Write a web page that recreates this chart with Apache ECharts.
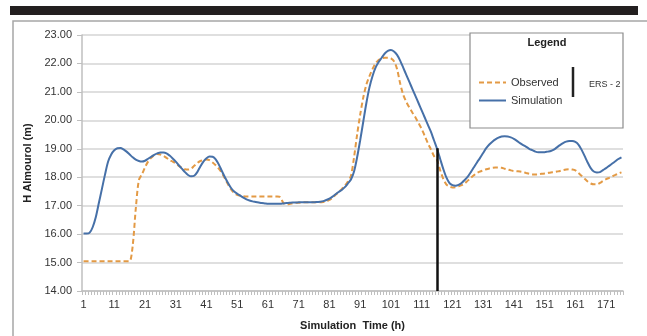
<!DOCTYPE html>
<html>
<head>
<meta charset="utf-8">
<script src="https://cdn.jsdelivr.net/npm/echarts@6/dist/echarts.min.js"></script>
<style>
html,body{margin:0;padding:0;background:#fff;}
#chart{width:647px;height:336px;}
</style>
</head>
<body>
<div id="chart"></div>
<script>
// Hours 1..176 (x categories)
var hours = [];
for (var h = 1; h <= 176; h++) hours.push(String(h));

var yTicks = [14, 15, 16, 17, 18, 19, 20, 21, 22, 23];

var simulation = [
  16.02, 16.02, 16.05, 16.25, 16.6, 17.1, 17.6, 18.1, 18.55, 18.8,
  18.95, 19.02, 19.03, 18.98, 18.9, 18.8, 18.7, 18.62, 18.57, 18.55,
  18.58, 18.65, 18.72, 18.79, 18.84, 18.87, 18.87, 18.84, 18.76, 18.66,
  18.55, 18.42, 18.3, 18.18, 18.08, 18.03, 18.05, 18.18, 18.38, 18.55,
  18.67, 18.73, 18.72, 18.63, 18.45, 18.22, 18.0, 17.8, 17.62, 17.5,
  17.42, 17.35, 17.28, 17.22, 17.18, 17.15, 17.13, 17.11, 17.09, 17.08,
  17.07, 17.07, 17.07, 17.07, 17.07, 17.08, 17.09, 17.1, 17.11, 17.11,
  17.12, 17.12, 17.12, 17.12, 17.12, 17.12, 17.13, 17.14, 17.16, 17.2,
  17.25, 17.32, 17.4, 17.48, 17.55, 17.65, 17.78, 17.92, 18.2, 18.7,
  19.3, 19.95, 20.6, 21.15, 21.55, 21.85, 22.05, 22.2, 22.35, 22.44,
  22.47, 22.42, 22.3, 22.1, 21.85, 21.6, 21.35, 21.1, 20.85, 20.6,
  20.35, 20.1, 19.85, 19.6, 19.3, 19.0, 18.65, 18.3, 18.0, 17.8,
  17.72, 17.7, 17.73, 17.8, 17.9, 18.02, 18.18, 18.35, 18.52, 18.68,
  18.85, 19.02, 19.15, 19.25, 19.33, 19.39, 19.43, 19.44, 19.43, 19.4,
  19.35, 19.28, 19.2, 19.13, 19.07, 19.0, 18.95, 18.9, 18.88, 18.88,
  18.88, 18.9, 18.92, 18.97, 19.05, 19.13, 19.2, 19.25, 19.27, 19.27,
  19.24, 19.15, 18.97, 18.75, 18.52, 18.32, 18.2, 18.17, 18.18, 18.25,
  18.32, 18.4, 18.48, 18.56, 18.64, 18.7
];

var observed = [
  15.05, 15.05, 15.05, 15.05, 15.05, 15.05, 15.05, 15.05, 15.05, 15.05,
  15.05, 15.05, 15.05, 15.05, 15.05, 15.05, 15.6, 16.9, 17.9, 18.1,
  18.35, 18.55, 18.68, 18.78, 18.82, 18.8, 18.75, 18.68, 18.6, 18.55,
  18.48, 18.4, 18.33, 18.28, 18.27, 18.3, 18.4, 18.5, 18.57, 18.6,
  18.62, 18.6, 18.52, 18.42, 18.3, 18.15, 17.95, 17.75, 17.57, 17.45,
  17.38, 17.35, 17.33, 17.32, 17.32, 17.32, 17.32, 17.32, 17.32, 17.32,
  17.32, 17.32, 17.32, 17.32, 17.3, 17.1, 17.05, 17.06, 17.08, 17.1,
  17.1, 17.12, 17.12, 17.12, 17.12, 17.12, 17.12, 17.12, 17.13, 17.15,
  17.2, 17.28, 17.38, 17.48, 17.58, 17.7, 17.85, 18.05, 18.7, 19.5,
  20.2, 20.8, 21.25, 21.55, 21.8, 22.0, 22.12, 22.18, 22.2, 22.2,
  22.18, 22.08, 21.8, 21.3, 20.9, 20.65, 20.45, 20.27, 20.1, 19.9,
  19.7, 19.45, 19.2, 18.98, 18.75, 18.6, 18.25, 17.95, 17.75, 17.67,
  17.64, 17.65, 17.68, 17.72, 17.78, 17.88, 17.98, 18.07, 18.15, 18.2,
  18.24, 18.28, 18.31, 18.33, 18.34, 18.34, 18.33, 18.3, 18.27, 18.24,
  18.22, 18.21, 18.2, 18.18, 18.15, 18.12, 18.1, 18.1, 18.1, 18.12,
  18.13, 18.15, 18.17, 18.18, 18.2, 18.22, 18.25, 18.27, 18.28, 18.27,
  18.24, 18.15, 18.05, 17.95, 17.85, 17.78, 17.75, 17.75, 17.8, 17.87,
  17.93, 17.98, 18.03, 18.08, 18.13, 18.17
];

// ERS - 2 marker (hour, level where it meets the simulated curve)
var ersHour = '116';
var ersLevel = 19.02;

var FONT = '"Liberation Sans", Arial, sans-serif';
var chart = echarts.init(document.getElementById('chart'), null, {renderer: 'canvas'});

var option = {
  backgroundColor: '#ffffff',
  animation: false,
  textStyle: {fontFamily: FONT},
  grid: {left: 82, right: 24, top: 35, bottom: 44, containLabel: false},
  xAxis: {
    type: 'category',
    data: hours,
    boundaryGap: true,
    axisLine: {show: true, lineStyle: {color: '#bfbfbf', width: 1.5}},
    axisTick: {show: true, interval: 0, length: 4, lineStyle: {color: '#bfbfbf', width: 1}},
    axisLabel: {interval: 9, color: '#333', fontSize: 11, fontFamily: FONT, margin: 8},
    splitLine: {show: false},
    name: 'Simulation  Time (h)',
    nameLocation: 'middle',
    nameGap: 29,
    nameTextStyle: {fontWeight: 'bold', fontSize: 11, color: '#222', fontFamily: FONT}
  },
  yAxis: {
    type: 'value',
    min: yTicks[0],
    max: yTicks[yTicks.length - 1],
    interval: 1,
    axisLine: {show: true, lineStyle: {color: '#bfbfbf', width: 1.5}},
    axisTick: {show: true, inside: false, length: 5, lineStyle: {color: '#bfbfbf'}},
    axisLabel: {color: '#333', fontSize: 11, fontFamily: FONT, margin: 10,
      formatter: function (v) { return v.toFixed(2); }},
    splitLine: {show: true, lineStyle: {color: '#d4d4d4', width: 1.5}},
    name: 'H Almourol (m)',
    nameLocation: 'middle',
    nameRotate: 90,
    nameGap: 45,
    nameTextStyle: {fontWeight: 'bold', fontSize: 11, color: '#222', fontFamily: FONT}
  },
  legend: {
    show: true,
    z: 30,
    orient: 'vertical',
    left: 478,
    top: 77,
    padding: 0,
    itemWidth: 27,
    itemHeight: 10,
    itemGap: 7,
    itemStyle: {opacity: 0},
    textStyle: {fontSize: 11, color: '#333', fontFamily: FONT},
    data: ['Observed', 'Simulation']
  },
  series: [
    {
      name: 'Observed',
      type: 'line',
      data: observed,
      symbol: 'none',
      smooth: 0.3,
      lineStyle: {color: '#e39a45', width: 2, type: [5, 3]},
      itemStyle: {color: '#e39a45'},
      z: 3
    },
    {
      name: 'Simulation',
      type: 'line',
      data: simulation,
      symbol: 'none',
      smooth: 0.3,
      lineStyle: {color: '#4670a8', width: 2},
      itemStyle: {color: '#4670a8'},
      z: 4,
      markLine: {
        silent: true,
        symbol: ['none', 'none'],
        label: {show: false},
        lineStyle: {color: '#111', width: 2.5, type: 'solid'},
        data: [[{coord: [ersHour, yTicks[0]]}, {coord: [ersHour, ersLevel]}]]
      }
    }
  ],
  graphic: [
    {type: 'rect', shape: {x: 10, y: 6, width: 628, height: 9}, style: {fill: '#231f20'}, z: 0},
    {type: 'polyline', shape: {points: [[13, 336], [13, 21], [647, 21]]},
      style: {stroke: '#a6a6a6', lineWidth: 1.5, fill: null}, z: 0},
    {type: 'rect', shape: {x: 470, y: 33, width: 153, height: 95},
      style: {fill: '#ffffff', stroke: '#8c8c8c', lineWidth: 1.2}, z: 10},
    {type: 'text', x: 547, y: 37, style: {text: 'Legend', fill: '#222', font: 'bold 11px ' + FONT, textAlign: 'center'}, z: 11},
    {type: 'line', shape: {x1: 573, y1: 67, x2: 573, y2: 97}, style: {stroke: '#222', lineWidth: 2.5}, z: 11},
    {type: 'text', x: 589, y: 80, style: {text: 'ERS - 2', fill: '#333', font: '9px ' + FONT}, z: 11}
  ]
};
chart.setOption(option);
</script>
</body>
</html>
